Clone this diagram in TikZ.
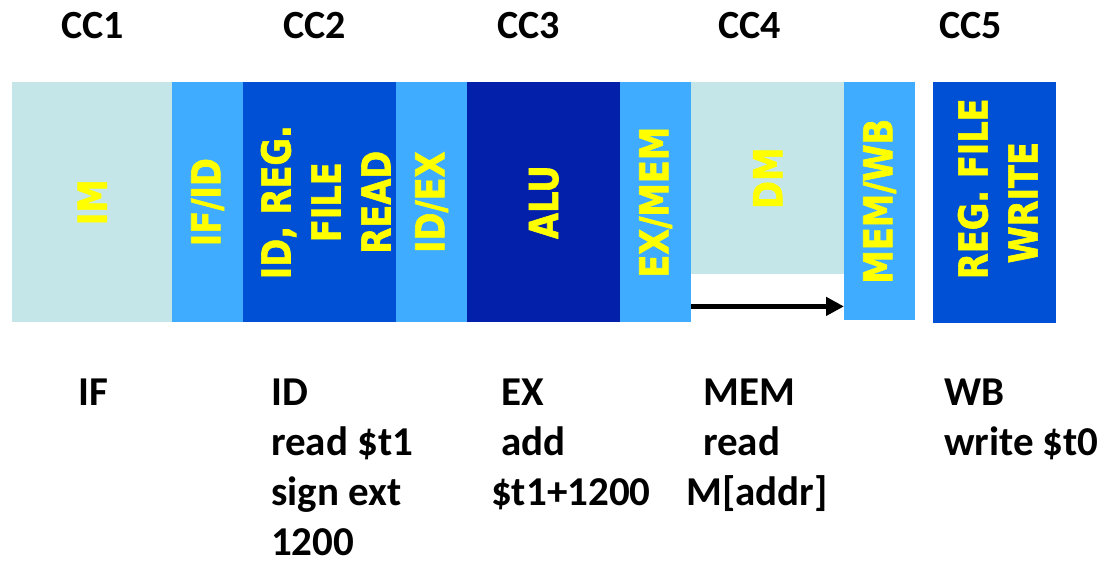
\documentclass[tikz,border=0pt]{standalone}
\usepackage{fontspec}
\setmainfont{Carlito}
\newfontfamily\blkfont[FakeStretch=0.84, BoldFeatures={FakeBold=1.5}]{DejaVu Sans}
\usetikzlibrary{arrows.meta}
\definecolor{lcyan}{HTML}{C4E6E8}
\definecolor{lblue}{HTML}{40ACFF}
\definecolor{mblue}{HTML}{0050D5}
\definecolor{dblue}{HTML}{0320AA}
\definecolor{ylw}{HTML}{FFFF00}
\tikzset{
  blk/.style={draw=none, inner sep=0pt, anchor=north west},
  blklabel/.style={rotate=90, text=ylw, inner sep=0pt, align=center,
    font=\blkfont\bfseries\fontsize{40}{50}\selectfont},
  cclabel/.style={anchor=base west, inner sep=0pt,
    font=\bfseries\fontsize{40}{48}\selectfont},
  stagelabel/.style={anchor=base west, inner sep=0pt,
    font=\bfseries\fontsize{41}{50}\selectfont},
  arr/.style={line width=5pt, -{Triangle[length=18pt,width=18pt]}}
}
\newcommand{\stagebox}[1]{\parbox[t]{220pt}{\raggedright\fontsize{41}{50}\selectfont #1}}
\begin{document}
\begin{tikzpicture}[x=1pt,y=-1pt]
\useasboundingbox (0,0) rectangle (1105,560);
% blocks
\node[blk, fill=lcyan, minimum width=160pt, minimum height=240pt] (im) at (12,82) {};
\node[blk, fill=lblue, minimum width=71pt, minimum height=240pt] (ifid) at (172,82) {};
\node[blk, fill=mblue, minimum width=153pt, minimum height=240pt] (reg) at (243,82) {};
\node[blk, fill=lblue, minimum width=71pt, minimum height=240pt] (idex) at (396,82) {};
\node[blk, fill=dblue, minimum width=153pt, minimum height=240pt] (alu) at (467,82) {};
\node[blk, fill=lblue, minimum width=71pt, minimum height=240pt] (exmem) at (620,82) {};
\node[blk, fill=lcyan, minimum width=153pt, minimum height=192pt] (dm) at (691,82) {};
\node[blk, fill=lblue, minimum width=71pt, minimum height=238pt] (memwb) at (844,82) {};
\node[blk, fill=mblue, minimum width=123pt, minimum height=241pt] (regw) at (933,82) {};
% block labels
\node[blklabel] (imL) at (im.center) {IM};
\node[blklabel] (ifidL) at (ifid.center) {IF/ID};
\node[blklabel] (regL) at ([xshift=6pt]reg.center) {ID, REG.\\FILE\\READ};
\node[blklabel] (idexL) at (idex.center) {ID/EX};
\node[blklabel] (aluL) at (alu.center) {ALU};
\node[blklabel] (exmemL) at (exmem.center) {EX/MEM};
\node[blklabel] (dmL) at (dm.center) {DM};
\node[blklabel] (memwbL) at (memwb.center) {MEM/WB};
\node[blklabel] (regwL) at ([xshift=3pt]regw.center) {\hspace*{28pt}REG. FILE\\WRITE};
% arrow
\coordinate (as) at ([yshift=16pt]exmem.south east);
\draw[arr] (as) -- (as -| memwb.west);
% clock cycle labels
\node[cclabel] (cc1) at (61,38) {CC1};
\node[cclabel] (cc2) at (283,38) {CC2};
\node[cclabel] (cc3) at (497,38) {CC3};
\node[cclabel] (cc4) at (718,38) {CC4};
\node[cclabel] (cc5) at (939,38) {CC5};
% stage labels
\node[stagelabel] (sif) at (78,405) {IF};
\node[stagelabel] (sid) at (271,405) {\stagebox{ID\\read \$t1\\sign ext\\1200}};
\node[stagelabel] (sex) at (491,405) {\stagebox{\hspace*{10pt}EX\\\hspace*{10pt}add\\\$t1+1200}};
\node[stagelabel] (smem) at (686,405) {\stagebox{\hspace*{17pt}MEM\\\hspace*{17pt}read\\M[addr]}};
\node[stagelabel] (swb) at (944,405) {\stagebox{WB\\write \$t0}};
\end{tikzpicture}
\end{document}
